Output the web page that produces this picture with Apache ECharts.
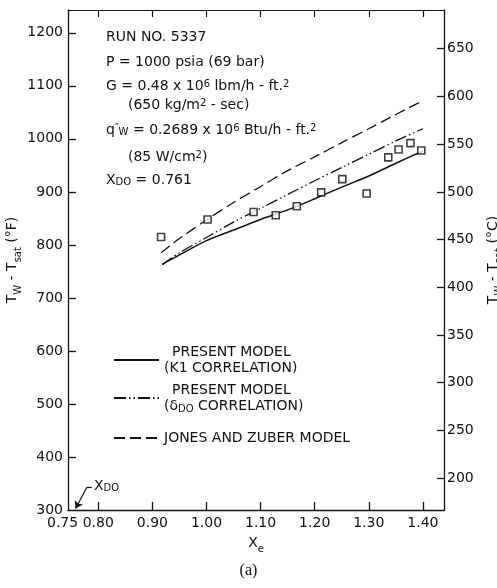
<!DOCTYPE html>
<html>
<head>
<meta charset="utf-8">
<script src="https://cdn.jsdelivr.net/npm/echarts@6/dist/echarts.min.js"></script>
<style>
  html, body { margin: 0; padding: 0; background: #fff; }
  #chart { width: 497px; height: 588px; }
</style>
</head>
<body>
<div id="chart"></div>
<script>
// ---- data ----
var xTickValues = [0.80, 0.90, 1.00, 1.10, 1.20, 1.30, 1.40];
var xStartLabel = '0.75';
var yTickF = [300, 400, 500, 600, 700, 800, 900, 1000, 1100, 1200];
var yTickC = [200, 250, 300, 350, 400, 450, 500, 550, 600, 650];

// measured points (squares)
var expX = [0.916, 1.002, 1.087, 1.128, 1.167, 1.212, 1.251, 1.296, 1.336, 1.355, 1.377, 1.397];
var expY = [815, 848, 862, 856, 873, 899, 924, 897, 965, 980, 992, 978];

// present model, K1 correlation (solid)
var k1X = [0.918, 0.95, 1.00, 1.05, 1.10, 1.15, 1.20, 1.25, 1.30, 1.35, 1.40];
var k1Y = [763, 781, 808, 828, 848, 866, 887, 909, 930, 954, 977];

// present model, delta_DO correlation (dash-dot-dot)
var ddoX = [0.918, 0.95, 1.00, 1.05, 1.10, 1.15, 1.20, 1.25, 1.30, 1.35, 1.40];
var ddoY = [763, 785, 814, 843, 869, 895, 921, 946, 971, 996, 1019];

// Jones and Zuber model (dashed)
var jzX = [0.916, 0.95, 1.00, 1.05, 1.10, 1.15, 1.20, 1.25, 1.30, 1.35, 1.40];
var jzY = [785, 812, 847, 880, 910, 940, 966, 993, 1019, 1046, 1072];

var xdo = 0.761;

function zip(xs, ys) {
  return xs.map(function (x, i) { return [x, ys[i]]; });
}

var font = 'DejaVu Sans';
var ink = '#111';
var fMin = 300, fMax = 1243;
var xMin = 0.744, xMax = 1.439;

var richSub = {
  sub: { fontSize: 10, fontFamily: font, color: ink, verticalAlign: 'bottom', lineHeight: 10 },
  sup: { fontSize: 10, fontFamily: font, color: ink, verticalAlign: 'top', lineHeight: 10 },
  m: { fontSize: 14, fontFamily: font, color: ink, lineHeight: 22 }
};

var legRich = {
  p: { fontFamily: font, fontSize: 14, color: ink, lineHeight: 16, padding: [0, 0, 0, 8] },
  t: { fontFamily: font, fontSize: 14, color: ink, lineHeight: 16 },
  s: { fontSize: 10, fontFamily: font, color: ink, verticalAlign: 'bottom', lineHeight: 10 }
};

function legendOpt(name, top) {
  return {
    data: [name],
    left: 108, top: top,
    orient: 'vertical',
    itemWidth: 45, itemHeight: 10,
    selectedMode: false,
    itemStyle: { opacity: 0, borderWidth: 0 },
    textStyle: { fontFamily: font, fontSize: 14, color: ink, rich: legRich },
    formatter: function (n) {
      if (n === 'k1') return '{p|PRESENT MODEL}\n{t|(K1 CORRELATION)}';
      if (n === 'ddo') return '{p|PRESENT MODEL}\n{t|(δ}{s|DO}{t| CORRELATION)}';
      return 'JONES AND ZUBER MODEL';
    }
  };
}

function textLine(x, y, txt) {
  return {
    type: 'text', left: x, top: y,
    style: { text: txt, font: '14px ' + font, fill: ink, rich: richSub }
  };
}

var myChart = echarts.init(document.getElementById('chart'));

var option = {
  backgroundColor: '#fff',
  animation: false,
  grid: { left: 68, right: 53, top: 10, bottom: 78, outerBoundsMode: 'none' },
  legend: [
    legendOpt('k1', 340),
    legendOpt('ddo', 378),
    legendOpt('jz', 426)
  ],
  xAxis: [
    {
      type: 'value', min: xMin, max: xMax,
      name: '{m|X}{sub|e}', nameLocation: 'middle', nameGap: 22,
      nameTextStyle: { rich: richSub },
      axisLine: { lineStyle: { color: ink, width: 1.3 } },
      axisTick: { inside: true, length: 8, lineStyle: { color: ink, width: 1.3 },
        customValues: xTickValues },
      axisLabel: { customValues: xTickValues, margin: 6, color: ink, fontFamily: font, fontSize: 14,
        formatter: function (v) { return v.toFixed(2); } },
      splitLine: { show: false }
    },
    {
      type: 'value', min: xMin, max: xMax, position: 'top',
      axisLine: { lineStyle: { color: ink, width: 1 } },
      axisTick: { inside: true, length: 7, lineStyle: { color: ink, width: 1.2 },
        customValues: xTickValues },
      axisLabel: { show: false },
      splitLine: { show: false }
    }
  ],
  yAxis: [
    {
      type: 'value', min: fMin, max: fMax, position: 'left',
      name: '{m|T}{sub|W}{m| - T}{sub|sat}{m| (°F)}', nameLocation: 'middle', nameGap: 45, nameRotate: 90,
      nameMoveOverlap: false,
      nameTextStyle: { rich: richSub },
      axisLine: { show: true, lineStyle: { color: ink, width: 1.3 } },
      axisTick: { show: true, inside: true, length: 8, lineStyle: { color: ink, width: 1.3 },
        customValues: yTickF.slice(1) },
      axisLabel: { customValues: yTickF, margin: 5, color: ink, fontFamily: font, fontSize: 14,
        formatter: function (v) { return String(v); } },
      splitLine: { show: false }
    },
    {
      type: 'value', min: fMin * 5 / 9, max: fMax * 5 / 9, position: 'right',
      name: '{m|T}{sub|W}{m| - T}{sub|sat}{m| (°C)}', nameLocation: 'middle', nameGap: 38, nameRotate: 90,
      nameMoveOverlap: false,
      nameTextStyle: { rich: richSub },
      axisLine: { show: true, lineStyle: { color: ink, width: 1.3 } },
      axisTick: { show: true, inside: true, length: 7, lineStyle: { color: ink, width: 1.3 },
        customValues: yTickC },
      axisLabel: { customValues: yTickC, margin: 3, color: ink, fontFamily: font, fontSize: 14,
        formatter: function (v) { return String(v); } },
      splitLine: { show: false }
    }
  ],
  graphic: [
    textLine(106, 30, 'RUN NO. 5337'),
    textLine(106, 55, 'P = 1000 psia (69 bar)'),
    textLine(106, 79, 'G = 0.48 x 10{sup|6} lbm/h - ft.{sup|2}'),
    textLine(128, 98, '(650 kg/m{sup|2} - sec)'),
    textLine(106, 123, 'q{sup|″}{sub|W} = 0.2689 x 10{sup|6} Btu/h - ft.{sup|2}'),
    textLine(128, 150, '(85 W/cm{sup|2})'),
    textLine(106, 173, 'X{sub|DO} = 0.761'),
    textLine(94, 479, 'X{sub|DO}'),
    {
      // start value of the x scale, sitting in the corner
      type: 'text', left: 47, top: 516,
      style: { text: xStartLabel, font: '14px ' + font, fill: ink }
    },
    {
      type: 'text', left: 'center', top: 563,
      style: { text: '(a)', font: '16px "Liberation Serif"', fill: ink }
    }
  ],
  series: [
    {
      name: 'k1', type: 'line', data: zip(k1X, k1Y), showSymbol: false, symbol: 'none',
      smooth: 0.3, lineStyle: { color: ink, width: 1.5, type: 'solid' }, itemStyle: { color: ink }
    },
    {
      name: 'ddo', type: 'line', data: zip(ddoX, ddoY), showSymbol: false, symbol: 'none',
      smooth: 0.3, lineStyle: { color: ink, width: 1.3, type: [12, 3, 1.5, 3, 1.5, 3] }, itemStyle: { color: ink }
    },
    {
      name: 'jz', type: 'line', data: zip(jzX, jzY), showSymbol: false, symbol: 'none',
      smooth: 0.3, lineStyle: { color: ink, width: 1.3, type: [11, 5] }, itemStyle: { color: ink }
    },
    {
      name: 'data', type: 'scatter', data: zip(expX, expY), symbol: 'rect', symbolSize: 7,
      itemStyle: { color: '#fff', borderColor: ink, borderWidth: 1.6 },
      z: 5,
      markLine: {
        silent: true, animation: false,
        label: { show: false },
        lineStyle: { color: ink, width: 1.2, type: 'solid' },
        symbolSize: 7,
        data: [
          [{ coord: [0.779, 343], symbol: 'none' }, { coord: [xdo - 0.003, 303], symbol: 'arrow' }],
          [{ coord: [0.779, 343], symbol: 'none' }, { coord: [0.788, 343], symbol: 'none' }]
        ]
      }
    }
  ]
};

myChart.setOption(option);
window.addEventListener('resize', function () {
  myChart.resize();
});
</script>
</body>
</html>
